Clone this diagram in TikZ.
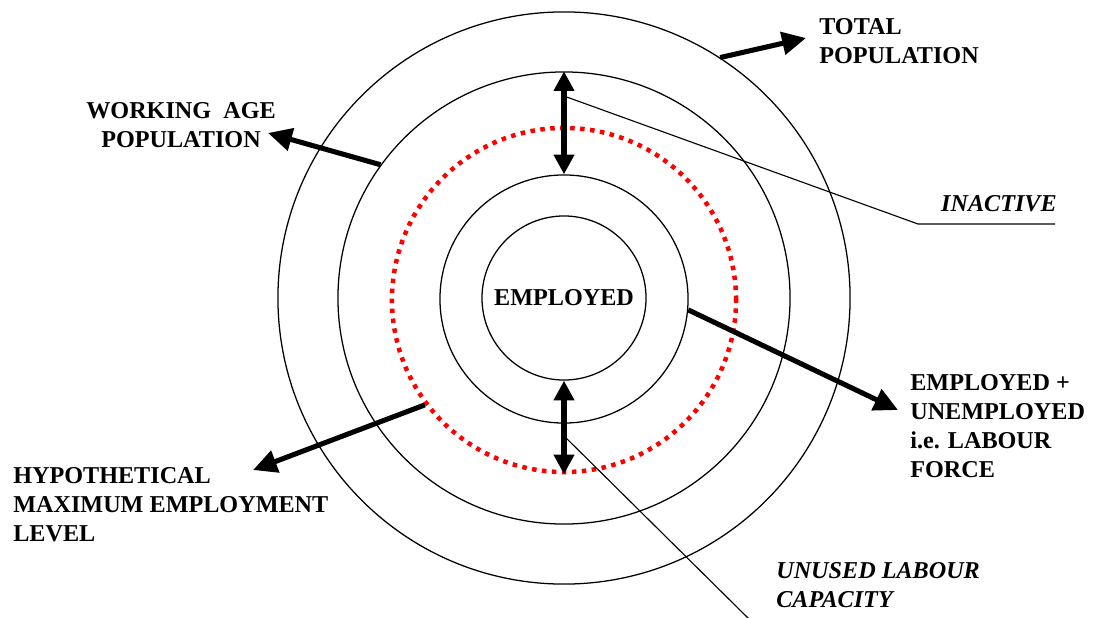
\documentclass[tikz,border=0pt]{standalone}
\usepackage{fontspec}
\setmainfont{Liberation Serif}
\usetikzlibrary{arrows.meta,positioning,calc}

\begin{document}
\begin{tikzpicture}[x=0.025cm, y=-0.025cm,
    every node/.style={font=\fontsize{17.2}{20.6}\selectfont\bfseries},
    ring/.style={draw, circle, line width=0.9pt, inner sep=0pt},
    pointer/.style={line width=3.6pt, -{Triangle[length=17pt,width=16pt]}},
    span/.style={line width=3.6pt, {Triangle[length=14pt,width=14pt]}-{Triangle[length=14pt,width=14pt]}},
    leader/.style={line width=0.8pt},
    lbl/.style={inner sep=0pt, align=left}]
  \useasboundingbox (0,0) rectangle (1095,617);

  % rings, outside in
  \node[ring, minimum size=14.3cm] (pop) at (564,298) {};
  \node[ring, minimum size=11.3cm] (wap) at (564,298) {};
  \node[ring, draw=red, line width=3.2pt, dash pattern=on 3.2pt off 3.9pt, minimum size=8.6cm] (hyp) at (564,300) {};
  \node[ring, minimum size=6.2cm] (lf) at (564,299) {};
  \node[ring, minimum size=4.1cm] (emp) at (564,298) {EMPLOYED};

  % labels
  \node[lbl, anchor=north west] (poptxt) at (819,18) {TOTAL\\POPULATION};
  \node[lbl, anchor=north, align=center] (waptxt) at (181,102) {WORKING~ AGE\\POPULATION};
  \node[lbl, anchor=north west] (lftxt) at (910,374) {EMPLOYED +\\UNEMPLOYED\\i.e. LABOUR\\FORCE};
  \node[lbl, anchor=north west] (hyptxt) at (13,467) {HYPOTHETICAL\\MAXIMUM EMPLOYMENT\\LEVEL};
  \node[lbl, anchor=south east, font=\fontsize{17.2}{20.6}\selectfont\bfseries\itshape] (inact) at (1057,212) {INACTIVE};
  \node[lbl, anchor=north west, font=\fontsize{17.2}{20.6}\selectfont\bfseries\itshape] (unused) at (776,562) {UNUSED LABOUR\\CAPACITY};

  % arrow tips and leader ends
  \coordinate (poptip) at (806,38);
  \coordinate (waptip) at (268,133);
  \coordinate (lftip) at (898,410);
  \coordinate (hyptip) at (253,470);
  \coordinate (ibend) at (918,224);
  \coordinate (iend) at (1055,224);
  \coordinate (uend) at (750,620);

  \draw[pointer] (pop.57) -- (poptip);
  \draw[pointer] (wap.144) -- (waptip);
  \draw[pointer] (lf.-5.5) -- (lftip);
  \draw[pointer] (hyp.217) -- (hyptip);

  \draw[span] (wap.north) -- (lf.north);
  \draw[span] (emp.south) -- (hyp.south);

  \coordinate (ia) at ($(wap.north)!0.24!(lf.north)$);
  \coordinate (ua) at ($(emp.south)!0.59!(hyp.south)$);
  \draw[leader] (ia) -- (ibend) -- (iend);
  \draw[leader] (ua) -- (uend);
\end{tikzpicture}
\end{document}
